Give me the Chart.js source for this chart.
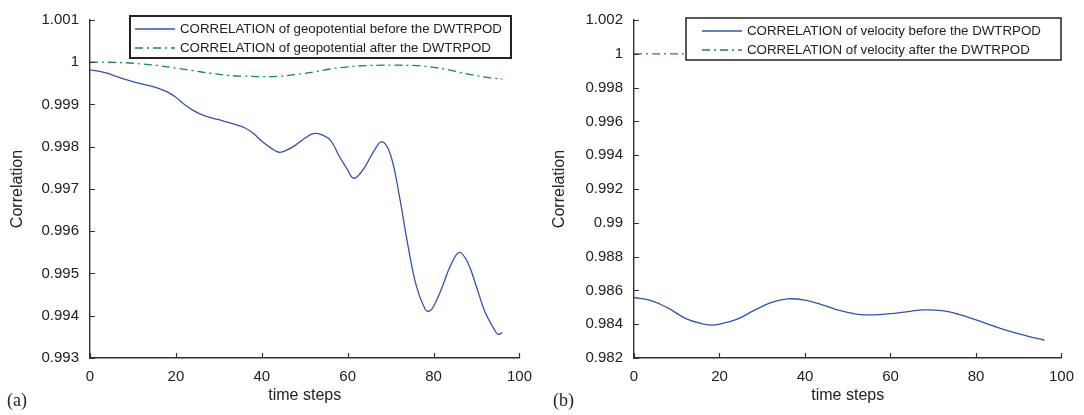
<!DOCTYPE html>
<html lang="en">
<head>
    <meta charset="UTF-8">
    <title>Correlation</title>
    <script src="https://cdn.jsdelivr.net/npm/chart.js@4.4.0/dist/chart.umd.min.js"></script>
    <style>
        body { margin: 0; background: #ffffff; }
        .panel { position: absolute; top: 0; }
    </style>
</head>
<body>
    <canvas id="geoCanvas" class="panel" width="542" height="415" style="left:0"></canvas>
    <canvas id="velCanvas" class="panel" width="542" height="415" style="left:542px"></canvas>
    <script>
        // (a) geopotential
        const geoSteps = [0, 2, 4, 6, 8, 10, 12, 14, 16, 18, 20, 22, 24, 26, 28, 30, 32, 34, 36, 38,
            40, 42, 44, 46, 48, 50, 52, 54, 56, 58, 60, 61, 62, 64, 66, 68, 70, 72, 74, 76,
            78, 79, 80, 82, 84, 86, 88, 90, 92, 94, 95, 96]
        const geoBefore = [0.99982, 0.99979, 0.99974, 0.99967, 0.99960, 0.99954, 0.99949, 0.99944, 0.99938, 0.99930,
            0.99917, 0.99900, 0.99886, 0.99876, 0.99869, 0.99864, 0.99858, 0.99852, 0.99845, 0.99832,
            0.99813, 0.99798, 0.99787, 0.99793, 0.99805, 0.99820, 0.99831, 0.99828, 0.99815, 0.99778,
            0.99745, 0.99728, 0.99727, 0.99752, 0.99788, 0.99812, 0.99780, 0.99685, 0.99568, 0.99470,
            0.99416, 0.99411, 0.99422, 0.99468, 0.99520, 0.99550, 0.99525, 0.99468, 0.99408, 0.99370,
            0.99356, 0.99360]
        const geoAfterSteps = [0, 4, 8, 12, 16, 20, 24, 28, 32, 36, 40, 44, 48, 52, 56, 60, 64, 68, 72, 76, 80, 84, 88, 92, 96]
        const geoAfter = [1.00000, 1.00000, 0.99999, 0.99996, 0.99992, 0.99986, 0.99980, 0.99974, 0.99969, 0.99967,
            0.99966, 0.99967, 0.99971, 0.99977, 0.99984, 0.99989, 0.99992, 0.99993, 0.99993, 0.99992,
            0.99988, 0.99981, 0.99972, 0.99965, 0.99960]

        // (b) velocity
        const velSteps = [0, 4, 8, 12, 16, 18, 20, 24, 28, 32, 36, 40, 44, 48, 52, 56, 60, 64, 68, 72, 76, 80, 84, 88, 92, 96]
        const velBefore = [0.98558, 0.98540, 0.98495, 0.98435, 0.98402, 0.98395, 0.98400, 0.98428, 0.98480, 0.98528,
            0.98550, 0.98542, 0.98515, 0.98482, 0.98460, 0.98455, 0.98462, 0.98475, 0.98485, 0.98480,
            0.98458, 0.98425, 0.98390, 0.98357, 0.98330, 0.98305]
        const velAfterSteps = [0, 12, 24, 36, 48, 60, 72, 84, 96]
        const velAfter = [1, 1, 1, 1, 1, 1, 1, 1, 1]

        // axis ticks
        const xTicks = [0, 20, 40, 60, 80, 100]
        const geoTicks = ['0.993', '0.994', '0.995', '0.996', '0.997', '0.998', '0.999', '1', '1.001']
        const velTicks = ['0.982', '0.984', '0.986', '0.988', '0.99', '0.992', '0.994', '0.996', '0.998', '1', '1.002']

        const BLUE = '#3552b0'
        const GREEN = '#148a4c'
        const INK = '#222222'
        const AXIS = '#333333'
        const SANS = '"Liberation Sans", Arial, Helvetica, sans-serif'

        const toPoints = (steps, values) => steps.map((s, i) => ({ x: s, y: values[i] }))

        // tick marks pointing into the plot, matlab style
        const innerTicks = {
            id: 'innerTicks',
            afterDatasetsDraw(chart) {
                const { ctx, chartArea, scales: { x, y } } = chart
                ctx.save()
                ctx.strokeStyle = AXIS
                ctx.lineWidth = 1.2
                ctx.beginPath()
                x.ticks.forEach(t => {
                    const px = Math.round(x.getPixelForValue(t.value)) + 0.5
                    ctx.moveTo(px, chartArea.bottom)
                    ctx.lineTo(px, chartArea.bottom - 5)
                })
                y.ticks.forEach(t => {
                    const py = Math.round(y.getPixelForValue(t.value)) + 0.5
                    ctx.moveTo(chartArea.left, py)
                    ctx.lineTo(chartArea.left + 5, py)
                })
                ctx.stroke()
                ctx.restore()
            }
        }

        // framed legend drawn over the lines
        const boxLegend = {
            id: 'boxLegend',
            afterDatasetsDraw(chart, args, opts) {
                const { ctx } = chart
                ctx.save()
                ctx.fillStyle = '#ffffff'
                ctx.fillRect(opts.x, opts.y, opts.w, opts.h)
                ctx.strokeStyle = INK
                ctx.lineWidth = opts.border
                ctx.strokeRect(opts.x, opts.y, opts.w, opts.h)
                ctx.font = '13.3px ' + SANS
                ctx.textBaseline = 'middle'
                chart.data.datasets.forEach((ds, i) => {
                    const cy = opts.y + 13 + i * 19
                    const x0 = opts.x + opts.pad
                    ctx.strokeStyle = ds.borderColor
                    ctx.lineWidth = ds.borderWidth
                    ctx.setLineDash(ds.borderDash || [])
                    ctx.beginPath()
                    ctx.moveTo(x0, cy)
                    ctx.lineTo(x0 + 40, cy)
                    ctx.stroke()
                    ctx.setLineDash([])
                    ctx.fillStyle = INK
                    ctx.fillText(ds.label, x0 + 45, cy)
                })
                ctx.restore()
            }
        }

        // "(a)" / "(b)" under the axis
        const panelTag = {
            id: 'panelTag',
            afterDraw(chart, args, opts) {
                const { ctx } = chart
                ctx.save()
                ctx.font = '18px "Liberation Serif", "Times New Roman", serif'
                ctx.fillStyle = INK
                ctx.textBaseline = 'middle'
                ctx.fillText(opts.text, opts.x, 401)
                ctx.restore()
            }
        }

        const makeChart = (canvas, cfg) => {
            const yMin = parseFloat(cfg.yTicks[0])
            const yMax = parseFloat(cfg.yTicks[cfg.yTicks.length - 1])
            return new Chart(canvas.getContext('2d'), {
                type: 'line',
                data: {
                    datasets: [
                        {
                            label: cfg.labels[0],
                            data: cfg.before,
                            borderColor: BLUE,
                            borderWidth: 1.3,
                            pointRadius: 0,
                            tension: 0.4,
                            fill: false
                        },
                        {
                            label: cfg.labels[1],
                            data: cfg.after,
                            borderColor: GREEN,
                            borderWidth: 1.3,
                            borderDash: [8, 4, 2, 4],
                            pointRadius: 0,
                            tension: 0.4,
                            fill: false
                        }
                    ]
                },
                options: {
                    responsive: false,
                    animation: false,
                    events: [],
                    layout: { padding: { top: 15, right: cfg.padRight, bottom: 0, left: 0 } },
                    scales: {
                        x: {
                            type: 'linear',
                            min: 0,
                            max: 100,
                            afterBuildTicks: (scale) => { scale.ticks = xTicks.map(v => ({ value: v })) },
                            afterFit: (scale) => { scale.height = 57 },
                            grid: { display: false, drawTicks: false },
                            border: { display: true, color: AXIS, width: 1.4 },
                            ticks: { color: INK, padding: 10, maxRotation: 0, font: { family: SANS, size: 15 } },
                            title: {
                                display: true,
                                text: 'time steps',
                                color: INK,
                                font: { family: SANS, size: 16 },
                                padding: { top: 0, bottom: 10 }
                            }
                        },
                        y: {
                            min: yMin,
                            max: yMax,
                            afterBuildTicks: (scale) => { scale.ticks = cfg.yTicks.map(v => ({ value: parseFloat(v) })) },
                            afterFit: (scale) => { scale.width = cfg.axisWidth },
                            grid: { display: false, drawTicks: false },
                            border: { display: true, color: AXIS, width: 1.4 },
                            ticks: {
                                color: INK,
                                padding: 11,
                                font: { family: SANS, size: 15 },
                                callback: (value, index) => cfg.yTicks[index]
                            },
                            title: {
                                display: true,
                                text: 'Correlation',
                                color: INK,
                                font: { family: SANS, size: 16 },
                                padding: { top: 8, bottom: 0 }
                            }
                        }
                    },
                    plugins: {
                        legend: { display: false },
                        tooltip: { enabled: false },
                        boxLegend: cfg.legend,
                        panelTag: cfg.tag
                    }
                },
                plugins: [innerTicks, boxLegend, panelTag]
            })
        }

        makeChart(document.getElementById('geoCanvas'), {
            before: toPoints(geoSteps, geoBefore),
            after: toPoints(geoAfterSteps, geoAfter),
            labels: ['CORRELATION of geopotential before the DWTRPOD', 'CORRELATION of geopotential after the DWTRPOD'],
            yTicks: geoTicks,
            axisWidth: 90,
            padRight: 18,
            legend: { x: 130, y: 16, w: 381, h: 42, pad: 5, border: 2 },
            tag: { text: '(a)', x: 7 }
        })

        makeChart(document.getElementById('velCanvas'), {
            before: toPoints(velSteps, velBefore),
            after: toPoints(velAfterSteps, velAfter),
            labels: ['CORRELATION of velocity before the DWTRPOD', 'CORRELATION of velocity after the DWTRPOD'],
            yTicks: velTicks,
            axisWidth: 92,
            padRight: 17,
            legend: { x: 144, y: 18, w: 375, h: 42, pad: 16, border: 1.5 },
            tag: { text: '(b)', x: 11 }
        })
    </script>
</body>
</html>
